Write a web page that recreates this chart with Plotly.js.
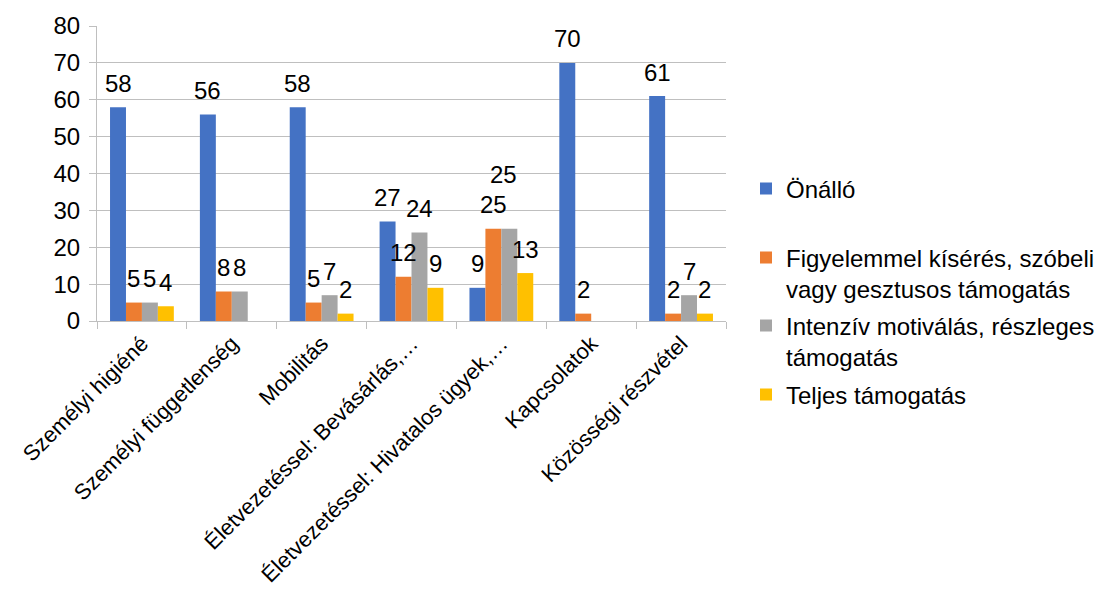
<!DOCTYPE html>
<html>
<head>
<meta charset="utf-8">
<script src="https://cdn.plot.ly/plotly-3.0.1.min.js"></script>
<style>html,body{margin:0;padding:0;background:#fff;}#chart{width:1095px;height:593px;}</style>
</head>
<body>
<div id="chart"></div>
<script>
const categories = ["Személyi higiéné", "Személyi függetlenség", "Mobilitás", "Életvezetéssel: Bevásárlás,…", "Életvezetéssel: Hivatalos ügyek,…", "Kapcsolatok", "Közösségi részvétel"];
const seriesNames = ["Önálló", "Figyelemmel kísérés, szóbeli<br>vagy gesztusos támogatás", "Intenzív motiválás, részleges<br>támogatás", "Teljes támogatás"];
const onallo = [58, 56, 58, 27, 9, 70, 61];
const figyelemmel = [5, 8, 5, 12, 25, 2, 2];
const intenziv = [5, 8, 7, 24, 25, null, 7];
const teljes = [4, null, 2, 9, 13, null, 2];
const yTicks = [0, 10, 20, 30, 40, 50, 60, 70, 80];

const seriesValues = [onallo, figyelemmel, intenziv, teljes];
const colors = ["#4472C4", "#ED7D31", "#A5A5A5", "#FFC000"];
const legendIds = ["legend", "legend2", "legend3", "legend4"];
const legendY = [189, 273.5, 341.5, 395];

const W = 1095, H = 593;
const margin = {l: 97, r: 369, t: 26, b: 272};
const bargap = 0.29;
const catPx = (W - margin.l - margin.r) / categories.length;
const barPx = catPx * (1 - bargap) / seriesValues.length;
const font = "Liberation Sans, Arial, sans-serif";
const fs = 24;

const traces = seriesValues.map((vals, i) => ({
  type: "bar",
  name: seriesNames[i],
  x: categories,
  y: vals,
  marker: {color: colors[i]},
  legend: legendIds[i],
  hoverinfo: "skip"
}));

// label tweaks (manually moved labels in the original)
const labelTweak = {"2-4": {dx: -6, dy: 30}};

const annotations = [];
seriesValues.forEach((vals, i) => {
  vals.forEach((v, j) => {
    if (v === null) return;
    const t = labelTweak[i + "-" + j] || {dx: 0, dy: 0};
    annotations.push({
      x: categories[j], y: v, xref: "x", yref: "y",
      text: String(v), showarrow: false,
      xanchor: "center", yanchor: "middle",
      xshift: (i - (seriesValues.length - 1) / 2) * barPx + t.dx,
      yshift: 24 + t.dy,
      font: {family: font, size: fs, color: "#000"}
    });
  });
});

const layout = {
  width: W, height: H,
  margin: margin,
  paper_bgcolor: "#fff", plot_bgcolor: "#fff",
  font: {family: font, size: fs, color: "#000"},
  barmode: "group",
  bargap: bargap,
  bargroupgap: 0,
  showlegend: true,
  xaxis: {
    type: "category",
    tickangle: -45,
    tickson: "boundaries",
    ticks: "outside", ticklen: 7, tickcolor: "#bfbfbf", tickwidth: 1,
    showline: true, linecolor: "#bfbfbf", linewidth: 1,
    showgrid: false,
    tickfont: {family: font, size: 22, color: "#000"},
    automargin: false
  },
  yaxis: {
    range: [0, 80],
    tickvals: yTicks,
    ticktext: yTicks.map(String),
    ticks: "outside", ticklen: 7, tickcolor: "#bfbfbf", tickwidth: 1,
    showline: true, linecolor: "#bfbfbf", linewidth: 1,
    showgrid: true, gridcolor: "#bfbfbf", gridwidth: 1,
    zeroline: false,
    ticklabelstandoff: 4,
    tickfont: {family: font, size: fs, color: "#000"},
    automargin: false
  },
  annotations: annotations
};

legendIds.forEach((id, i) => {
  layout[id] = {
    xref: "container", yref: "container",
    x: 746 / W, y: 1 - legendY[i] / H,
    xanchor: "left", yanchor: "middle",
    valign: "top",
    bgcolor: "rgba(0,0,0,0)",
    font: {family: font, size: fs, color: "#000"},
    itemwidth: 30,
    tracegroupgap: 0
  };
});

Plotly.newPlot("chart", traces, layout, {displayModeBar: false, staticPlot: true});
</script>
</body>
</html>
